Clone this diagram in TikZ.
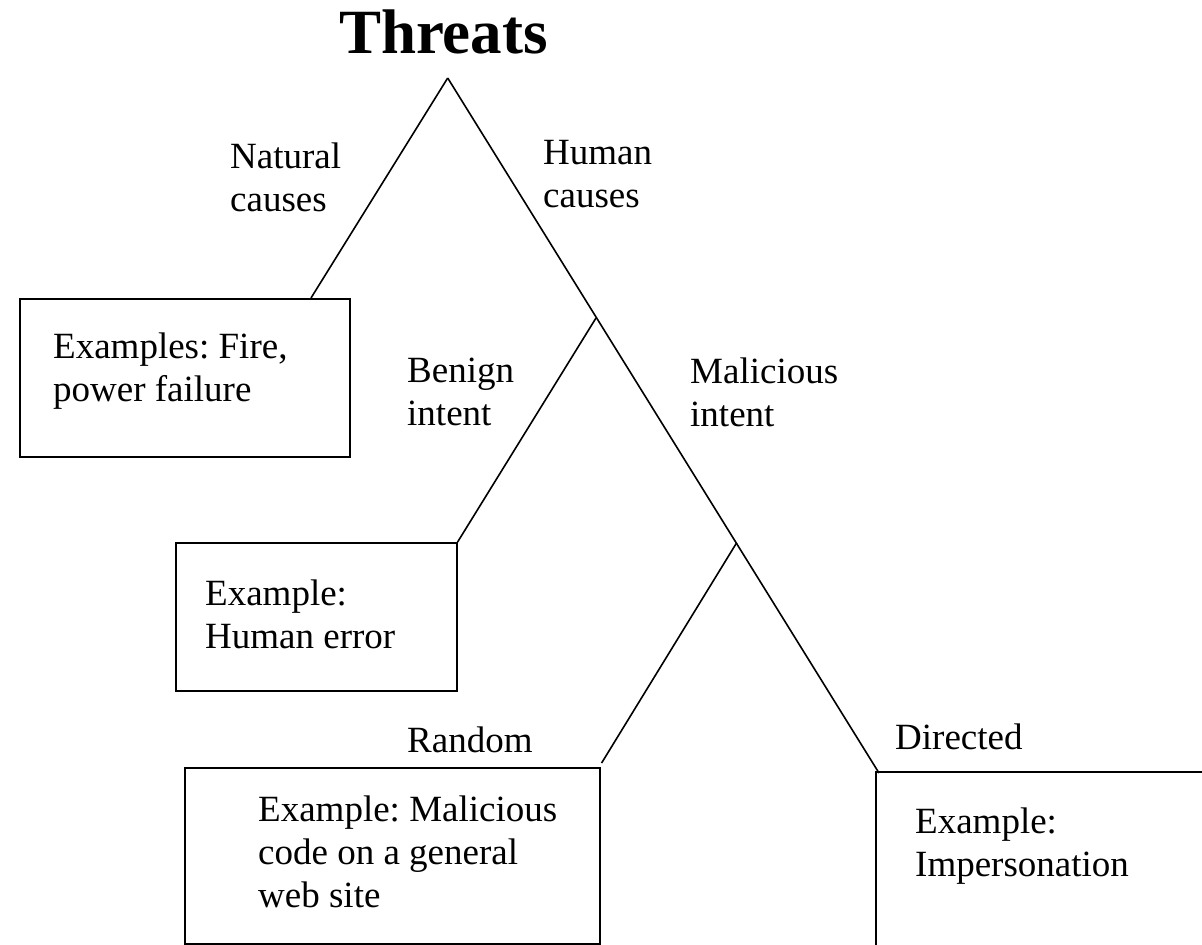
\documentclass[tikz,border=0pt]{standalone}
\usepackage{fontspec}
\setmainfont{Liberation Serif}
\usetikzlibrary{calc}
\frenchspacing
\begin{document}
\begin{tikzpicture}[x=1pt,y=-1pt,
  conn/.style={line width=1.6pt},
  box/.style={draw,line width=1.6pt,anchor=north west,inner sep=0pt},
  lbl/.style={anchor=west,align=left,inner sep=0pt,font=\fontsize{37}{43}\selectfont\frenchspacing}]
\useasboundingbox (0,0) rectangle (1202,945);
\node[font=\fontsize{63}{70}\selectfont\bfseries,anchor=base] (title) at (443.5,53) {Threats};
\coordinate (apex) at (447.7,78);
\coordinate (b1) at (596,318);
\coordinate (b2) at (736.7,542.7);
\coordinate (d) at (879,773);
\node[box,minimum width=330pt,minimum height=158pt] (box1) at (19,298) {};
\node[box,minimum width=281pt,minimum height=148pt] (box2) at (175,542) {};
\node[box,minimum width=415pt,minimum height=176pt] (box3) at (184,767) {};
\coordinate (box4) at (876,772);
\draw[conn] (1202,772) -- (box4) -- (876,945);
\draw[conn] (apex) -- ($(box1.north west)+(292,0)$);
\draw[conn] (apex) -- (d);
\draw[conn] (b1) -- (box2.north east);
\draw[conn] (b2) -- ($(box3.north east)+(1,-4)$);
\node[lbl] (nat) at (230,177) {Natural\\causes};
\node[lbl] (hum) at (543,174) {Human\\causes};
\node[lbl] (t1) at (53,371) {Examples: Fire,\\power failure};
\node[lbl] (ben) at (407,392) {Benign\\intent};
\node[lbl] (mal) at (690,392) {Malicious\\intent};
\node[lbl] (t2) at (205,614) {Example:\\Human error};
\node[lbl] (ran) at (407,740) {Random};
\node[lbl] (dir) at (895,737) {Directed};
\node[lbl] (t3) at (258,852) {Example: Malicious\\code on a general\\web site};
\node[lbl] (t4) at (915,846) {Example:\\Impersonation};
\end{tikzpicture}
\end{document}
